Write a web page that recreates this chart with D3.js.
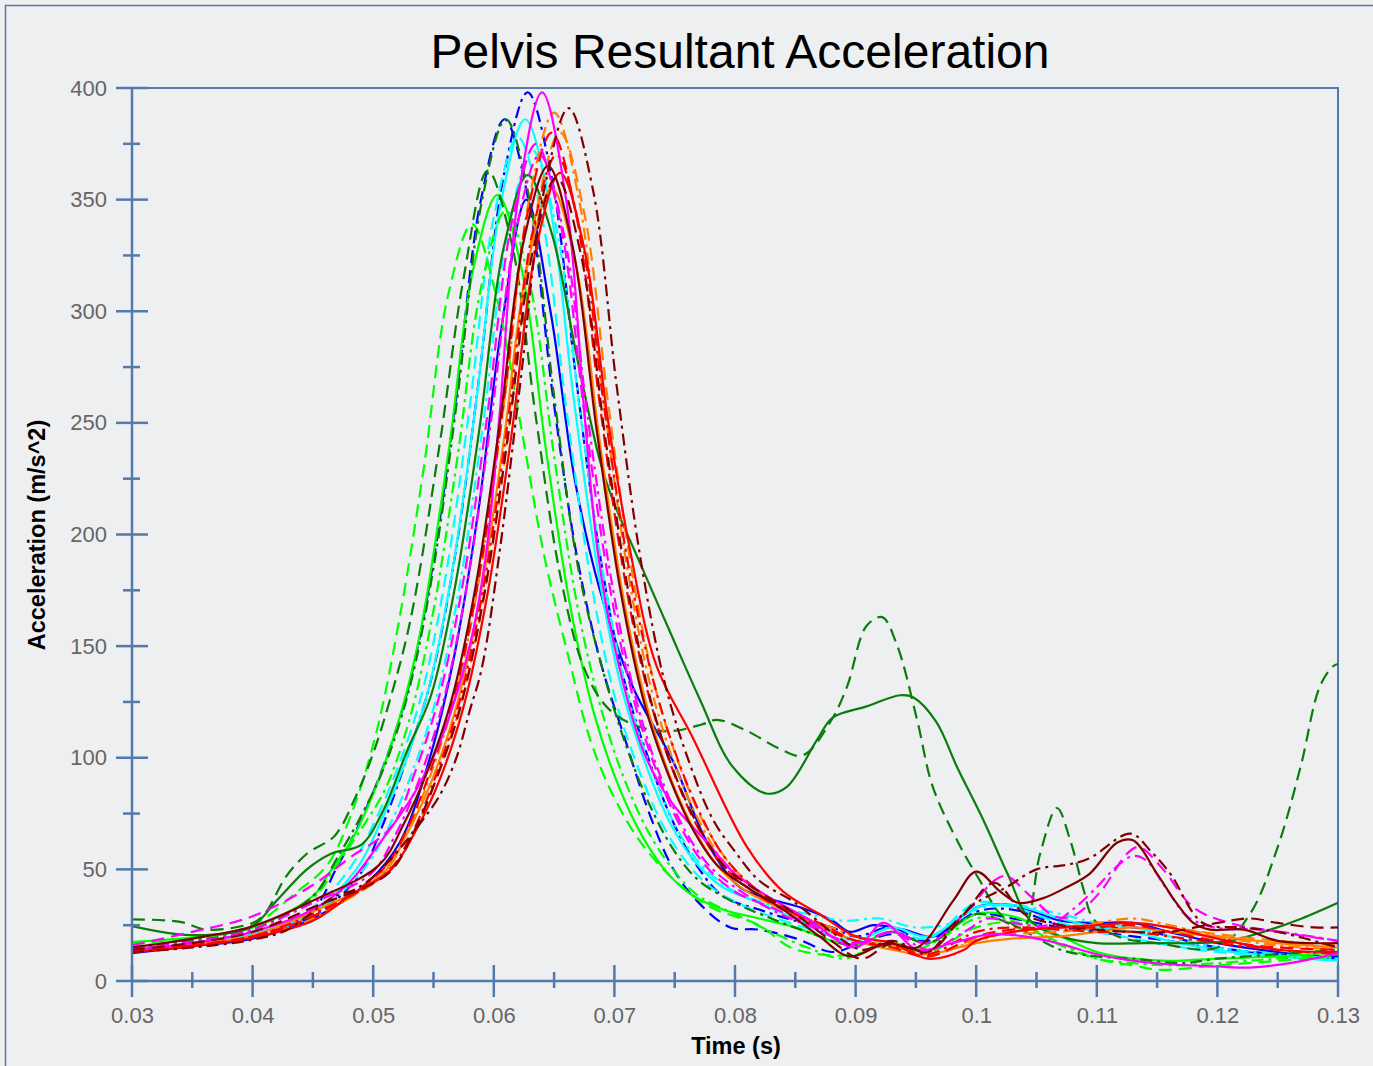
<!DOCTYPE html>
<html>
<head>
<meta charset="utf-8">
<script src="https://cdn.jsdelivr.net/npm/d3@7"></script>
<style>
  body { margin: 0; background: #eeeff1; }
  text { font-family: "Liberation Sans", Arial, sans-serif; }
</style>
</head>
<body>
<svg id="chart" width="1373" height="1066"></svg>
<script>
// ---- data: [time (s), acceleration (m/s^2)] ----
var blueSolid = [[0.03,12.5],[0.035,15.5],[0.04,19],[0.045,28],[0.0495,44],[0.0522,62],[0.0547,100],[0.0567,145],[0.0587,210],[0.0607,295],[0.0627,350],[0.0647,300],[0.0667,225],[0.0688,175],[0.0715,132],[0.0749,98],[0.0777,62],[0.0804,42],[0.0827,37],[0.0854,33],[0.0881,27],[0.0895,22],[0.0915,25],[0.094,23],[0.0965,20],[0.1,33],[0.103,34],[0.107,27],[0.11,26],[0.113,26],[0.116,22],[0.12,17],[0.125,13],[0.13,10]];
var blueDashed = [[0.03,14],[0.035,16],[0.04,20],[0.045,32],[0.0469,50],[0.0489,71],[0.0509,97],[0.0529,131],[0.0549,185],[0.0569,262],[0.0589,349],[0.0609,386],[0.0629,349],[0.0649,262],[0.0669,190],[0.0689,142],[0.0709,108],[0.0729,75],[0.0749,50],[0.077,35],[0.0796,24],[0.082,23],[0.0851,19],[0.088,13],[0.09,16],[0.093,21],[0.096,18],[0.1,30],[0.103,28],[0.107,24],[0.11,22],[0.113,20],[0.116,18],[0.12,14],[0.125,12],[0.13,11]];
var blueDashDot = [[0.03,13],[0.035,15.5],[0.04,19.5],[0.045,29],[0.0488,47],[0.0508,70],[0.0528,100],[0.0548,135],[0.0568,191],[0.0588,271],[0.0608,360],[0.0628,398],[0.0648,360],[0.0668,271],[0.0688,191],[0.0708,135],[0.0728,100],[0.0748,72],[0.0768,52],[0.079,38],[0.082,32],[0.085,27],[0.088,24],[0.09,20],[0.093,24],[0.096,17],[0.1,31],[0.103,32],[0.107,25],[0.11,23],[0.113,24],[0.116,20],[0.12,15],[0.125,12],[0.13,10]];

var magentaSolid = [[0.03,14],[0.035,17],[0.04,22],[0.045,32],[0.048,44],[0.0503,60],[0.0534,84],[0.0556,108],[0.058,150],[0.0594,193],[0.0605,255],[0.062,350],[0.064,398],[0.066,350],[0.0675,255],[0.0686,193],[0.07,150],[0.0724,103],[0.0746,81],[0.0777,62],[0.08,48],[0.083,37],[0.086,28],[0.09,15],[0.0923,26],[0.0951,14],[0.098,17],[0.1012,21],[0.104,20],[0.1067,17],[0.11,12],[0.1125,9.5],[0.116,7.5],[0.12,6.5],[0.1227,6],[0.126,8],[0.13,12.5]];
var magentaDashed = [[0.03,16],[0.035,22],[0.04,29],[0.045,43],[0.048,55],[0.0515,69],[0.0535,94],[0.0555,128],[0.0575,180],[0.0595,255],[0.0615,340],[0.0635,375],[0.0655,340],[0.0675,255],[0.0695,180],[0.0715,128],[0.0735,94],[0.0755,69],[0.0775,52],[0.08,40],[0.083,33],[0.086,26],[0.09,16],[0.093,22],[0.096,17],[0.099,30],[0.1015,45],[0.1025,47],[0.1045,38],[0.1065,29],[0.108,29],[0.1103,40],[0.1125,57],[0.1135,60],[0.1155,50],[0.118,33],[0.121,26],[0.125,22],[0.13,18]];
var magentaDashDot = [[0.03,15],[0.035,17.5],[0.04,23],[0.045,35],[0.0498,48],[0.0518,65],[0.0538,90],[0.0558,125],[0.0578,178],[0.0598,252],[0.0618,335],[0.0638,370],[0.0658,335],[0.0678,252],[0.0698,178],[0.0718,126],[0.0738,92],[0.0758,68],[0.0778,52],[0.08,42],[0.083,32],[0.086,25],[0.09,17],[0.093,22],[0.096,14],[0.099,22],[0.101,28],[0.103,26],[0.106,25],[0.108,32],[0.11,42],[0.1114,50],[0.113,56],[0.1141,54],[0.1158,41],[0.1175,29],[0.1197,24],[0.1238,23],[0.13,18]];

var cyanSolid = [[0.03,14],[0.035,16.5],[0.04,21],[0.045,31],[0.0486,50],[0.0506,71],[0.0526,97],[0.0546,131],[0.0566,185],[0.0586,262],[0.0606,349],[0.0626,386],[0.0646,349],[0.0666,262],[0.0686,185],[0.0706,131],[0.0726,97],[0.0746,71],[0.0766,54],[0.079,42],[0.082,35],[0.085,28],[0.088,22],[0.09,18],[0.093,24],[0.096,20],[0.1,33],[0.103,34],[0.107,28],[0.11,24],[0.113,22],[0.116,18],[0.12,14],[0.125,11],[0.13,9]];
var cyanDashed = [[0.03,14.5],[0.035,17],[0.04,22],[0.045,33],[0.048,50],[0.05,70],[0.052,95],[0.054,128],[0.056,181],[0.058,257],[0.06,342],[0.062,378],[0.064,342],[0.066,257],[0.068,181],[0.07,128],[0.072,95],[0.074,70],[0.076,53],[0.078,42],[0.081,33],[0.084,27],[0.087,22],[0.09,17],[0.093,22],[0.096,19],[0.1,35],[0.103,33],[0.107,26],[0.11,22],[0.113,19],[0.116,16],[0.12,13],[0.125,11],[0.13,10]];
var cyanDashDot = [[0.03,14],[0.035,16],[0.04,20.5],[0.045,30],[0.0492,50],[0.0512,68],[0.0532,93],[0.0552,126],[0.0572,178],[0.0592,253],[0.0612,337],[0.0632,372],[0.0652,337],[0.0672,253],[0.0692,178],[0.0712,126],[0.0732,93],[0.0752,68],[0.0772,52],[0.08,40],[0.083,34],[0.086,30],[0.089,27],[0.092,28],[0.095,24],[0.098,26],[0.1,32],[0.103,34],[0.107,30],[0.11,26],[0.113,24],[0.116,20],[0.12,15],[0.125,12],[0.13,10]];

var greenSolid = [[0.03,24.6],[0.0348,20.6],[0.0398,24],[0.042,36],[0.0445,50],[0.0465,57],[0.049,61],[0.0508,76],[0.0528,103],[0.0548,128],[0.0568,177],[0.0588,247],[0.0608,328],[0.0628,361],[0.0648,335],[0.0668,282],[0.0688,233],[0.0699,215],[0.0719,190],[0.0744,159],[0.0771,126],[0.0798,96],[0.0826,84],[0.0843,87],[0.0868,108],[0.0881,118],[0.0909,123],[0.0937,128],[0.0948,127],[0.0967,116],[0.0984,96],[0.1006,72],[0.1026,48],[0.1045,27],[0.107,20],[0.11,17],[0.114,17],[0.118,17],[0.121,18],[0.1244,23],[0.127,28],[0.13,35]];
var greenDashed = [[0.03,27.6],[0.034,26.5],[0.0362,23],[0.04,26],[0.041,30],[0.0428,47],[0.0445,57],[0.0468,65],[0.0485,82],[0.05,102],[0.0515,128],[0.0531,162],[0.0555,240],[0.0575,315],[0.0595,363],[0.0615,330],[0.0635,252],[0.0655,182],[0.0675,140],[0.0695,122],[0.072,114],[0.0748,112],[0.0773,115],[0.0785,117],[0.081,112],[0.0837,104],[0.0856,101],[0.0879,116],[0.0893,132],[0.0909,159],[0.0922,163],[0.0934,151],[0.0951,117],[0.0964,87],[0.0987,60],[0.1003,45],[0.102,30],[0.1039,24],[0.1053,57],[0.1067,77.5],[0.1078,63],[0.1089,41],[0.1097,28],[0.1117,20],[0.115,17],[0.12,15],[0.1227,30],[0.125,60],[0.1269,96],[0.1285,132],[0.1296,141],[0.13,142]];
var greenDashDot = [[0.03,15],[0.035,18],[0.04,23],[0.045,38],[0.047,55],[0.049,74],[0.051,97],[0.053,131],[0.055,185],[0.057,262],[0.059,349],[0.061,386],[0.063,349],[0.065,262],[0.067,185],[0.069,140],[0.071,105],[0.073,78],[0.075,58],[0.077,45],[0.08,35],[0.083,28],[0.086,22],[0.09,16],[0.093,22],[0.096,17],[0.1,30],[0.103,25],[0.107,14],[0.11,11],[0.113,10],[0.117,8],[0.12,10],[0.125,12],[0.13,14]];

var limeSolid = [[0.03,17.5],[0.035,19.5],[0.04,24],[0.045,38],[0.0463,48],[0.0483,64],[0.0503,88],[0.0523,120],[0.0539,156],[0.0563,239],[0.0583,319],[0.0603,352],[0.0623,319],[0.0643,239],[0.0663,169],[0.0683,120],[0.0703,88],[0.0723,65],[0.0743,49],[0.0763,39],[0.079,32],[0.082,28],[0.085,24],[0.088,18],[0.09,16],[0.093,22],[0.096,17],[0.1,30],[0.103,29],[0.107,20],[0.11,13],[0.113,10],[0.116,9],[0.12,10],[0.125,11],[0.13,13]];
var limeDashed = [[0.03,17],[0.035,19],[0.04,25],[0.0437,40],[0.0462,52],[0.0482,75],[0.0502,110],[0.0522,163],[0.0542,230],[0.0562,307],[0.0582,339],[0.0602,307],[0.0622,250],[0.0642,190],[0.0662,145],[0.068,108],[0.07,82],[0.0722,62],[0.075,45],[0.078,33],[0.082,25],[0.0846,15],[0.0876,11.6],[0.09,12],[0.093,17],[0.096,13],[0.1,24],[0.103,26],[0.107,17],[0.11,10],[0.113,7],[0.1153,5],[0.12,7],[0.125,9],[0.13,11]];
var limeDashDot = [[0.03,15.5],[0.035,18.5],[0.04,24],[0.045,37],[0.047,52],[0.049,68],[0.051,86],[0.053,117],[0.055,166],[0.057,235],[0.059,312],[0.061,345],[0.063,312],[0.065,235],[0.067,166],[0.069,120],[0.071,88],[0.073,65],[0.075,49],[0.077,38],[0.08,30],[0.083,22],[0.086,15],[0.089,10],[0.092,16],[0.095,14],[0.098,22],[0.1,28],[0.103,27],[0.107,16],[0.11,10],[0.113,8],[0.116,7],[0.12,8],[0.125,10],[0.13,12]];

var redSolid = [[0.03,13],[0.035,15.5],[0.04,19.5],[0.045,27],[0.048,38],[0.0515,50],[0.0535,67],[0.0555,90],[0.0575,123],[0.0595,174],[0.0615,246],[0.0635,328],[0.0655,362],[0.0675,328],[0.0695,250],[0.0713,193],[0.0735,141],[0.0765,109],[0.081,60],[0.084,40],[0.087,30],[0.09,20],[0.093,17],[0.096,10],[0.099,14],[0.1,18],[0.103,22],[0.107,24],[0.11,25],[0.113,26],[0.116,24],[0.12,19],[0.125,14],[0.13,13]];
var redDashed = [[0.03,13.5],[0.035,16],[0.04,20],[0.045,29],[0.0508,50],[0.0528,68],[0.0548,95],[0.0568,129],[0.0588,182],[0.0608,258],[0.0628,344],[0.0648,380],[0.0668,344],[0.0688,258],[0.0708,182],[0.0728,129],[0.0748,95],[0.0768,70],[0.0788,53],[0.081,42],[0.084,32],[0.087,26],[0.09,18],[0.093,15],[0.096,11],[0.1,20],[0.103,23],[0.107,24],[0.11,24],[0.113,25],[0.116,22],[0.12,18],[0.125,15],[0.13,14]];
var redDashDot = [[0.03,14],[0.035,16],[0.04,20],[0.045,30],[0.0512,49],[0.0532,66],[0.0552,92],[0.0572,126],[0.0592,178],[0.0612,252],[0.0632,335],[0.0652,370],[0.0672,335],[0.0692,255],[0.0712,185],[0.0732,135],[0.0752,100],[0.0772,74],[0.0792,55],[0.082,40],[0.085,30],[0.088,22],[0.09,18],[0.093,16],[0.096,12],[0.1,22],[0.103,24],[0.107,23],[0.11,22],[0.113,22],[0.116,20],[0.12,17],[0.125,14],[0.13,12]];

var orangeSolid = [[0.03,14],[0.035,16.5],[0.04,20.5],[0.045,31],[0.0508,48],[0.0528,66],[0.0548,89],[0.0568,121],[0.0588,170],[0.0608,241],[0.0628,321],[0.0648,355],[0.0668,321],[0.0688,241],[0.0708,170],[0.0728,121],[0.0748,89],[0.0768,66],[0.0788,50],[0.081,40],[0.084,32],[0.087,25],[0.09,18],[0.093,14],[0.096,12],[0.1,17],[0.103,19],[0.107,20],[0.11,22],[0.113,24],[0.116,22],[0.12,20],[0.125,17],[0.13,15]];
var orangeDashed = [[0.03,13.5],[0.035,16],[0.04,20],[0.045,29],[0.0515,50],[0.0535,68],[0.0555,95],[0.0575,129],[0.0595,182],[0.0615,258],[0.0635,344],[0.0655,380],[0.0675,344],[0.0695,258],[0.0715,182],[0.0735,129],[0.0755,95],[0.0775,70],[0.0795,53],[0.082,40],[0.085,30],[0.088,23],[0.09,18],[0.093,16],[0.096,11],[0.1,19],[0.103,21],[0.107,22],[0.11,24],[0.113,26],[0.116,24],[0.12,21],[0.125,18],[0.13,16]];
var orangeDashDot = [[0.03,13],[0.035,15.5],[0.04,19.5],[0.045,28],[0.051,50],[0.053,69],[0.055,96],[0.057,132],[0.059,187],[0.061,265],[0.063,352],[0.065,389],[0.067,352],[0.069,265],[0.071,187],[0.073,132],[0.075,97],[0.077,72],[0.079,54],[0.082,40],[0.085,30],[0.088,24],[0.09,20],[0.093,17],[0.096,12],[0.1,18],[0.103,22],[0.107,24],[0.11,26],[0.113,28],[0.116,25],[0.12,20],[0.125,16],[0.13,14]];

var maroonSolid = [[0.03,15],[0.035,19],[0.04,24.5],[0.045,36],[0.0505,52],[0.0525,70],[0.0545,94],[0.0565,126],[0.0585,177],[0.0605,250],[0.0625,332],[0.0645,365],[0.0665,330],[0.0685,248],[0.0705,175],[0.0725,124],[0.0745,92],[0.0765,68],[0.0785,52],[0.081,42],[0.084,32],[0.087,20],[0.0895,11],[0.0926,17],[0.0951,15],[0.0981,36],[0.1,49],[0.102,40],[0.1035,35],[0.1055,37],[0.1075,42],[0.1094,48],[0.1117,62],[0.113,63],[0.115,48],[0.1166,35],[0.118,26],[0.1194,23],[0.1222,23],[0.125,18],[0.13,17]];
var maroonDashed = [[0.03,14],[0.035,17],[0.04,22],[0.045,33],[0.0512,48],[0.0532,65],[0.0552,90],[0.0572,122],[0.0592,173],[0.0612,245],[0.0632,326],[0.0652,360],[0.0672,326],[0.0692,245],[0.0712,173],[0.0732,122],[0.0752,90],[0.0772,67],[0.0792,51],[0.082,40],[0.085,30],[0.088,18],[0.0905,10],[0.093,17],[0.096,13],[0.099,30],[0.1015,44],[0.104,30],[0.107,25],[0.11,23],[0.113,22],[0.116,22],[0.12,26],[0.1227,28],[0.125,26],[0.128,24],[0.13,24]];
var maroonDashDot = [[0.03,13],[0.035,15],[0.04,18.5],[0.0429,23],[0.0467,37.6],[0.0485,41],[0.0503,48],[0.052,58],[0.0538,70],[0.0555,83],[0.0569,100],[0.058,121],[0.059,140],[0.0605,193],[0.0622,268],[0.0642,355],[0.0662,391],[0.0682,355],[0.0702,266],[0.0722,188],[0.0742,133],[0.0762,98],[0.0782,72],[0.08,58],[0.082,45],[0.085,35],[0.088,22],[0.0905,14],[0.093,18],[0.096,13],[0.098,25],[0.1,35],[0.1025,42],[0.105,50],[0.1075,52],[0.1094,55],[0.1128,66],[0.1145,58],[0.1161,48],[0.1188,26],[0.122,24],[0.125,22],[0.13,15]];

var seriesData = [blueSolid, blueDashed, blueDashDot, cyanSolid, cyanDashed, cyanDashDot,
                  limeSolid, limeDashed, limeDashDot, greenSolid, greenDashed, greenDashDot,
                  orangeSolid, orangeDashed, orangeDashDot, redSolid, redDashed, redDashDot,
                  magentaSolid, magentaDashed, magentaDashDot, maroonSolid, maroonDashed, maroonDashDot];
var seriesColors = ["#0000ff","#0000ff","#0000ff","#00ffff","#00ffff","#00ffff",
                    "#00ff00","#00ff00","#00ff00","#0a7d0a","#0a7d0a","#0a7d0a",
                    "#ff8000","#ff8000","#ff8000","#ff0000","#ff0000","#ff0000",
                    "#ff00ff","#ff00ff","#ff00ff","#800000","#800000","#800000"];
var seriesStyles = ["solid","dashed","dashdot","solid","dashed","dashdot",
                    "solid","dashed","dashdot","solid","dashed","dashdot",
                    "solid","dashed","dashdot","solid","dashed","dashdot",
                    "solid","dashed","dashdot","solid","dashed","dashdot"];

var xMajor = [0.03,0.04,0.05,0.06,0.07,0.08,0.09,0.1,0.11,0.12,0.13];
var xLabels = ["0.03","0.04","0.05","0.06","0.07","0.08","0.09","0.1","0.11","0.12","0.13"];
var xMinor = [0.035,0.045,0.055,0.065,0.075,0.085,0.095,0.105,0.115,0.125];
var yMajor = [0,50,100,150,200,250,300,350,400];
var yMinor = [25,75,125,175,225,275,325,375];

// ---- drawing ----
var axisColor = "#5479ad";
var dashes = { solid: null, dashed: "13,7", dashdot: "12,5,3,5" };

var svg = d3.select("#chart");
var plotLeft = 132, plotRight = 1338, plotTop = 88, plotBottom = 981;

var x = d3.scaleLinear().domain([0.03, 0.13]).range([plotLeft, plotRight]);
var y = d3.scaleLinear().domain([0, 400]).range([plotBottom, plotTop]);

svg.append("rect")
   .attr("x", 5.5).attr("y", 5.5)
   .attr("width", 1400).attr("height", 1100)
   .attr("fill", "#eeeff1")
   .attr("stroke", axisColor).attr("stroke-width", 1.5);

svg.append("defs").append("clipPath").attr("id", "plotclip")
   .append("rect")
   .attr("x", plotLeft).attr("y", plotTop)
   .attr("width", plotRight - plotLeft).attr("height", plotBottom - plotTop);

// frame top and right
svg.append("path")
   .attr("d", "M" + plotLeft + "," + plotTop + "H" + plotRight + "V" + plotBottom)
   .attr("fill", "none").attr("stroke", axisColor).attr("stroke-width", 2);

// curves
var line = d3.line()
   .x(function (d) { return x(d[0]); })
   .y(function (d) { return y(d[1]); })
   .curve(d3.curveCatmullRom.alpha(0.5));

var curves = svg.append("g").attr("clip-path", "url(#plotclip)");
seriesData.forEach(function (pts, i) {
  curves.append("path")
    .attr("d", line(pts))
    .attr("fill", "none")
    .attr("stroke", seriesColors[i])
    .attr("stroke-width", 2.2)
    .attr("stroke-dasharray", dashes[seriesStyles[i]]);
});

// axes lines
svg.append("line").attr("x1", plotLeft).attr("x2", plotRight).attr("y1", plotBottom).attr("y2", plotBottom)
   .attr("stroke", axisColor).attr("stroke-width", 2.5);
svg.append("line").attr("x1", plotLeft).attr("x2", plotLeft).attr("y1", plotTop).attr("y2", plotBottom)
   .attr("stroke", axisColor).attr("stroke-width", 2.5);

// ticks crossing the axis lines
var ticks = svg.append("g").attr("stroke", axisColor).attr("stroke-width", 2.5);
ticks.selectAll(".xmaj").data(xMajor).enter().append("line")
   .attr("x1", function (d) { return x(d); }).attr("x2", function (d) { return x(d); })
   .attr("y1", plotBottom - 16).attr("y2", plotBottom + 16);
ticks.selectAll(".xmin").data(xMinor).enter().append("line")
   .attr("x1", function (d) { return x(d); }).attr("x2", function (d) { return x(d); })
   .attr("y1", plotBottom - 9).attr("y2", plotBottom + 7);
ticks.selectAll(".ymaj").data(yMajor).enter().append("line")
   .attr("y1", function (d) { return y(d); }).attr("y2", function (d) { return y(d); })
   .attr("x1", plotLeft - 16).attr("x2", plotLeft + 16);
ticks.selectAll(".ymin").data(yMinor).enter().append("line")
   .attr("y1", function (d) { return y(d); }).attr("y2", function (d) { return y(d); })
   .attr("x1", plotLeft - 9).attr("x2", plotLeft + 8);

// tick labels through d3 axes (tick marks hidden, drawn above)
var xAxis = svg.append("g")
   .attr("transform", "translate(0," + (plotBottom + 16) + ")")
   .call(d3.axisBottom(x).tickValues(xMajor).tickSize(0).tickPadding(10)
          .tickFormat(function (d, i) { return xLabels[i]; }));
var yAxis = svg.append("g")
   .attr("transform", "translate(" + (plotLeft - 16) + ",0)")
   .call(d3.axisLeft(y).tickValues(yMajor).tickSize(0).tickPadding(9));
[xAxis, yAxis].forEach(function (g) {
  g.select(".domain").remove();
  g.selectAll("text")
   .style("font-family", "'Liberation Sans', Arial, sans-serif")
   .style("font-size", "22px")
   .attr("fill", "#666666");
});

// titles
svg.append("text")
   .attr("x", 740).attr("y", 68)
   .attr("text-anchor", "middle")
   .style("font-size", "48px")
   .attr("fill", "#000")
   .text("Pelvis Resultant Acceleration");

svg.append("text")
   .attr("x", 736).attr("y", 1054)
   .attr("text-anchor", "middle")
   .style("font-size", "23.5px").style("font-weight", "bold")
   .attr("fill", "#000")
   .text("Time (s)");

svg.append("text")
   .attr("transform", "translate(45,535) rotate(-90)")
   .attr("text-anchor", "middle")
   .style("font-size", "23.5px").style("font-weight", "bold")
   .attr("fill", "#000")
   .text("Acceleration (m/s^2)");
</script>
</body>
</html>
